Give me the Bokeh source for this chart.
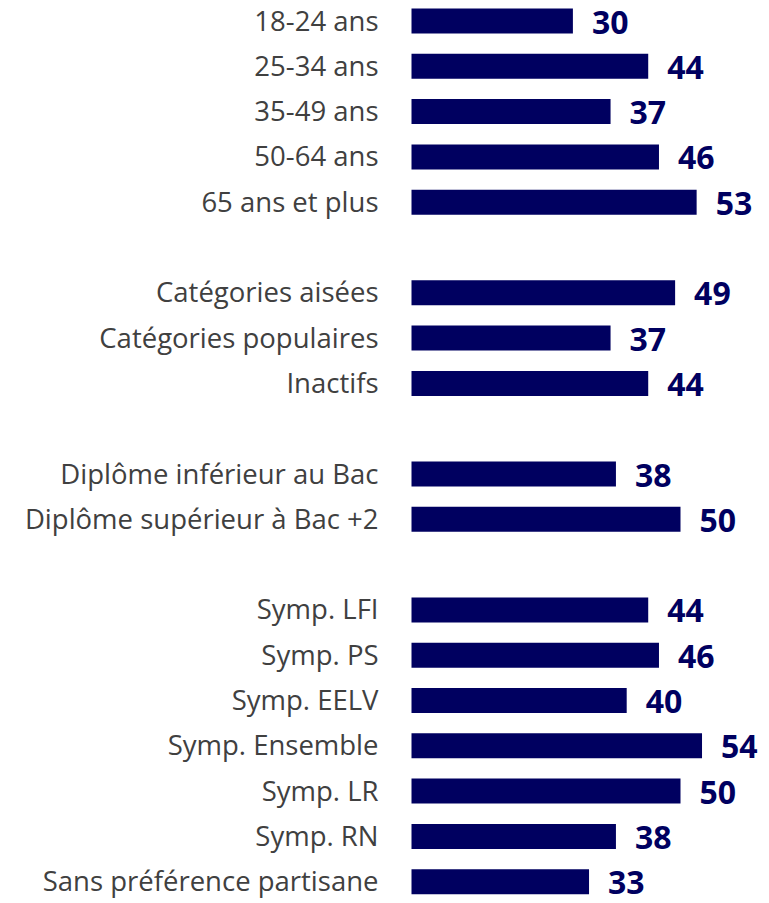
from bokeh.plotting import figure
from bokeh.models import ColumnDataSource, Range1d
from bokeh.embed import file_html
from bokeh.resources import INLINE
from bokeh.core.properties import value

# ---- data ----
categories = [
    "18-24 ans", "25-34 ans", "35-49 ans", "50-64 ans", "65 ans et plus",
    "Catégories aisées", "Catégories populaires", "Inactifs",
    "Diplôme inférieur au Bac", "Diplôme supérieur à Bac +2",
    "Symp. LFI", "Symp. PS", "Symp. EELV", "Symp. Ensemble", "Symp. LR",
    "Symp. RN", "Sans préférence partisane",
]
values = [30, 44, 37, 46, 53, 49, 37, 44, 38, 50, 44, 46, 40, 54, 50, 38, 33]
groups = [0, 0, 0, 0, 0, 1, 1, 1, 2, 2, 3, 3, 3, 3, 3, 3, 3]

# slot positions: one empty slot between groups
slots = [i + g for i, g in enumerate(groups)]
value_labels = [str(v) for v in values]

W, H = 769, 903
px_per_unit = 5.38
bar_start_px = 411
x_start = -bar_start_px / px_per_unit
x_end = (W - bar_start_px) / px_per_unit

slot_px = 45.3
top_center_px = 20.5
y_top = -top_center_px / slot_px
y_bottom = y_top + H / slot_px

src = ColumnDataSource(dict(cat=categories, val=values, y=slots, lab=value_labels,
                            zero=[0] * len(values)))

p = figure(width=W, height=H, output_backend="svg", toolbar_location=None,
           x_range=Range1d(x_start, x_end), y_range=Range1d(y_bottom, y_top),
           min_border=0, min_border_left=0, min_border_right=0,
           min_border_top=0, min_border_bottom=0)
p.axis.visible = False
p.grid.visible = False
p.outline_line_color = None
p.background_fill_color = "white"
p.border_fill_color = "white"

navy = "#000060"
p.hbar(y="y", left=0, right="val", height=25 / slot_px, source=src,
       fill_color=navy, line_color=None)

p.text(x="zero", y="y", text="cat", source=src, x_offset=-33, y_offset=-1,
       text_align="right", text_baseline="middle",
       text_font=value("Open Sans"), text_font_size="27.5px", text_color="#404040")

p.text(x="val", y="y", text="lab", source=src, x_offset=19, y_offset=1,
       text_align="left", text_baseline="middle",
       text_font=value("Open Sans"), text_font_style="bold",
       text_font_size="32px", text_color=navy)

open("out.html", "w").write(file_html(p, INLINE))
